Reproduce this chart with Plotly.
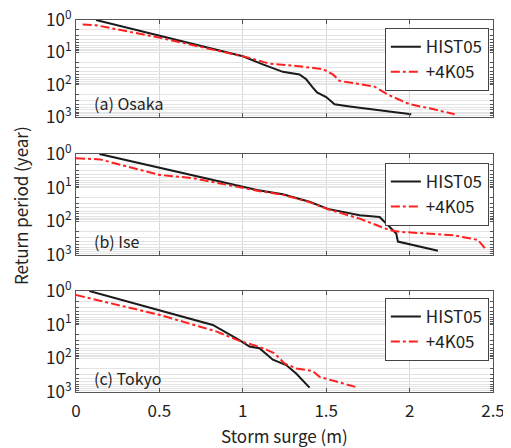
import plotly.graph_objects as go
from plotly.subplots import make_subplots

# ---- data (storm surge in m, return period in years) ----
osaka_hist_x = [0.12, 0.5, 0.92, 1.0, 1.12, 1.24, 1.34, 1.38, 1.42, 1.445, 1.50, 1.54, 1.55, 1.64, 2.01]
osaka_hist_y = [1.0, 3.0, 10.5, 13.2, 23.4, 40, 48, 68, 123, 174, 240, 355, 400, 468, 813]
osaka_4k_x = [0.04, 0.12, 0.5, 0.92, 1.04, 1.16, 1.32, 1.48, 1.54, 1.58, 1.64, 1.70, 1.79, 1.88, 2.0, 2.12, 2.27]
osaka_4k_y = [1.38, 1.45, 3.5, 10.5, 14.8, 22.4, 26.3, 33, 48, 76, 85, 93, 115, 214, 400, 537, 813]

ise_hist_x = [0.14, 0.5, 1.085, 1.24, 1.40, 1.51, 1.70, 1.82, 1.88, 1.92, 1.93, 2.17]
ise_hist_y = [1.0, 2.6, 11.7, 15.8, 26.3, 42.7, 66, 74, 145, 229, 398, 741]
ise_4k_x = [0.0, 0.144, 0.5, 0.70, 1.085, 1.24, 1.40, 1.51, 1.70, 1.88, 1.94, 2.0, 2.26, 2.41, 2.46]
ise_4k_y = [1.35, 1.45, 4.2, 5.2, 12.3, 16.2, 26.9, 43.6, 83, 182, 204, 214, 257, 355, 708]

tokyo_hist_x = [0.08, 0.5, 0.744, 0.82, 0.98, 1.04, 1.10, 1.18, 1.26, 1.32, 1.40]
tokyo_hist_y = [1.0, 3.8, 8.1, 10.2, 28.8, 44.7, 50, 110, 158, 282, 741]
tokyo_4k_x = [0.0, 0.5, 0.744, 0.84, 0.98, 1.10, 1.19, 1.25, 1.32, 1.42, 1.46, 1.56, 1.69]
tokyo_4k_y = [1.32, 5.1, 11.5, 15.8, 30.2, 45.7, 70.8, 141, 200, 240, 355, 500, 741]

panel_labels = ["(a) Osaka", "(b) Ise", "(c) Tokyo"]
series_names = ["HIST05", "+4K05"]
x_ticks = [0, 0.5, 1, 1.5, 2, 2.5]
x_ticktext = ["0", "0.5", "1", "1.5", "2", "2.5"]
decades = [1, 10, 100, 1000]
decade_text = ["10<sup>0</sup>", "10<sup>1</sup>", "10<sup>2</sup>", "10<sup>3</sup>"]

FONT = "Noto Sans CJK JP"

fig = make_subplots(rows=3, cols=1, shared_xaxes=True, vertical_spacing=0.0)

panels = [
    (osaka_hist_x, osaka_hist_y, osaka_4k_x, osaka_4k_y),
    (ise_hist_x, ise_hist_y, ise_4k_x, ise_4k_y),
    (tokyo_hist_x, tokyo_hist_y, tokyo_4k_x, tokyo_4k_y),
]
legend_ids = ["legend", "legend2", "legend3"]

for i, (hx, hy, fx, fy) in enumerate(panels):
    fig.add_trace(go.Scatter(x=hx, y=hy, mode="lines", name=series_names[0],
                             line=dict(color="#1a1a1a", width=2),
                             legend=legend_ids[i]), row=i + 1, col=1)
    fig.add_trace(go.Scatter(x=fx, y=fy, mode="lines", name=series_names[1],
                             line=dict(color="#ff2020", width=2, dash="dashdot"),
                             legend=legend_ids[i]), row=i + 1, col=1)

# minor log ticks
all_vals = []
all_text = []
for d in [1, 10, 100]:
    for m in range(1, 10):
        all_vals.append(d * m)
        all_text.append(decade_text[decades.index(d)] if m == 1 else "")
all_vals.append(1000)
all_text.append(decade_text[3])

domains = [[0.739, 1.0], [0.368, 0.640], [0.0, 0.2715]]
for i in range(3):
    yname = "yaxis" if i == 0 else f"yaxis{i+1}"
    xname = "xaxis" if i == 0 else f"xaxis{i+1}"
    fig.layout[yname].update(
        type="log", range=[3.0005, -0.0005], domain=domains[i],
        tickvals=all_vals, ticktext=all_text,
        ticks="inside", ticklen=3, tickcolor="#555",
        showgrid=True, gridcolor="#e4e4e4", gridwidth=1,
        showline=True, linecolor="#555", linewidth=1, mirror="ticks",
        tickfont=dict(family=FONT, size=17, color="#222"),
        zeroline=False, automargin=False, ticklabeloverflow="allow",
    )
    fig.layout[xname].update(
        range=[0, 2.5], tickvals=x_ticks, ticktext=x_ticktext,
        ticks="inside", ticklen=4, tickcolor="#555",
        showgrid=True, gridcolor="#d8d8d8", gridwidth=1,
        showline=True, linecolor="#555", linewidth=1, mirror="ticks",
        tickfont=dict(family=FONT, size=17, color="#222"),
        showticklabels=(i == 2), zeroline=False, automargin=False,
        ticklabelstandoff=4, ticklabeloverflow="allow",
    )
    fig.add_annotation(text=panel_labels[i], x=0.038, y=0.14,
                       xref=f"x{'' if i == 0 else i+1} domain",
                       yref=f"y{'' if i == 0 else i+1} domain",
                       xanchor="left", yanchor="middle", showarrow=False,
                       font=dict(family=FONT, size=16, color="#222"))

fig.add_annotation(text="Storm surge (m)", x=0.5, y=-0.118, xref="paper", yref="paper",
                   showarrow=False, xanchor="center", yanchor="middle",
                   font=dict(family=FONT, size=17, color="#222"))

fig.add_annotation(text="Return period (year)", x=-0.134, y=0.5, xref="paper", yref="paper",
                   textangle=-90, showarrow=False, xanchor="center", yanchor="middle",
                   font=dict(family=FONT, size=17, color="#222"))

legend_tops = [0.978, 0.616, 0.253]
leg_common = dict(x=0.99, xanchor="right", yanchor="top", bgcolor="white",
                  bordercolor="#444", borderwidth=1,
                  font=dict(family=FONT, size=17, color="#222"),
                  tracegroupgap=0, itemwidth=30)
fig.update_layout(
    legend=dict(y=legend_tops[0], **leg_common),
    legend2=dict(y=legend_tops[1], **leg_common),
    legend3=dict(y=legend_tops[2], **leg_common),
)

# page body has an 8px default margin, so the figure is sized to fit the window
fig.update_layout(
    width=503, height=440,
    margin=dict(l=68, r=18, t=12, b=56, autoexpand=False),
    plot_bgcolor="white", paper_bgcolor="white",
    showlegend=True,
)

fig.write_html("out.html")
